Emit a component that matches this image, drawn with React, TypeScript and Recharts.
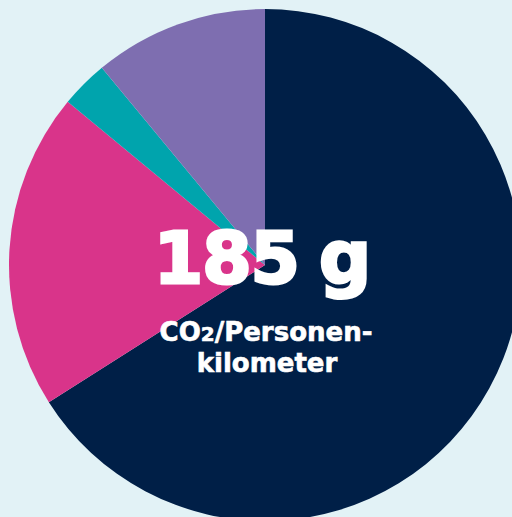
import { Cell, Label, Pie, PieChart } from "recharts";

const modes = ["Flugzeug", "Auto", "Bahn", "Bus"];
const shares = [66, 20, 3, 11];
const colors = ["#001f47", "#d9348a", "#00a4ad", "#7e6eb0"];
const headline = "185";
const unit = "g";
const subLines = ["CO2/Personen-", "kilometer"];

const data = modes.map((name, i) => ({ name, value: shares[i] }));

function CenterText() {
  return (
    <g fill="#ffffff" stroke="#ffffff" fontFamily="'DejaVu Sans', sans-serif" fontWeight={700}>
      <text x={299} y={283} fontSize={71} letterSpacing={-1} textAnchor="end" strokeWidth={3}>
        {headline}
      </text>
      <text x={319} y={283} fontSize={73} textAnchor="start" strokeWidth={3}>
        {unit}
      </text>
      <text x={266} y={341} fontSize={26} textAnchor="middle" strokeWidth={0.6}>
        CO<tspan fontSize={20}>2</tspan>
        {subLines[0].slice(3)}
      </text>
      <text x={267} y={372} fontSize={26} textAnchor="middle" strokeWidth={0.6}>
        {subLines[1]}
      </text>
    </g>
  );
}

export default function App() {
  return (
    <div
      style={{
        position: "absolute",
        left: 0,
        top: 0,
        width: 512,
        height: 517,
        overflow: "hidden",
        background: "#e2f2f6",
      }}
    >
      <PieChart width={512} height={517} margin={{ top: 0, right: 0, bottom: 0, left: 0 }}>
        <Pie
          data={data}
          dataKey="value"
          nameKey="name"
          cx={265}
          cy={265}
          outerRadius={256}
          startAngle={90}
          endAngle={-270}
          stroke="none"
          isAnimationActive={false}
        >
          {data.map((d, i) => (
            <Cell key={d.name} fill={colors[i]} />
          ))}
          <Label position="center" content={() => <CenterText />} />
        </Pie>
      </PieChart>
    </div>
  );
}
